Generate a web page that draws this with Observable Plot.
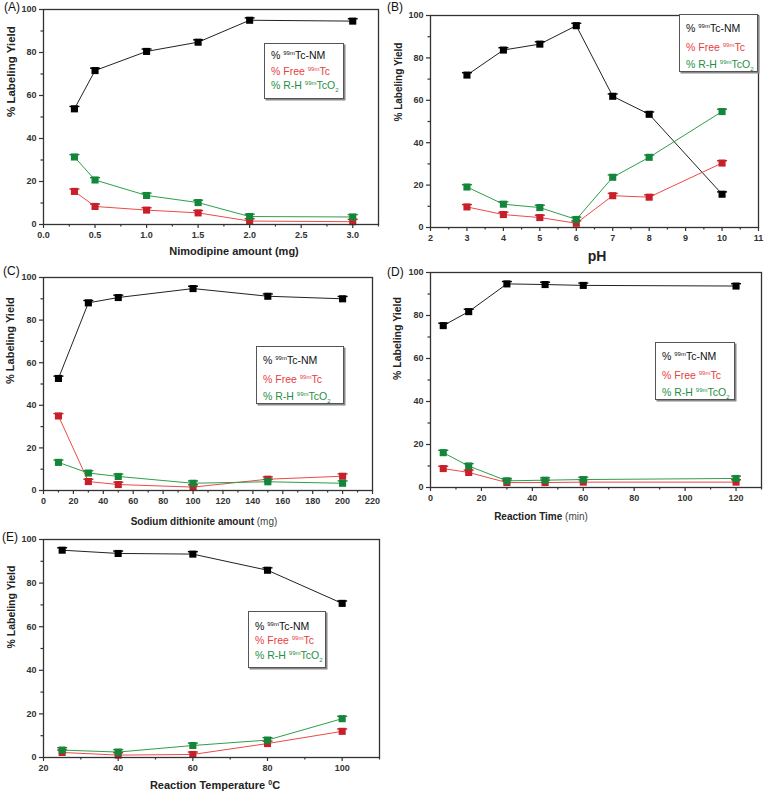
<!DOCTYPE html>
<html>
<head>
<meta charset="utf-8">
<script src="https://cdn.jsdelivr.net/npm/d3@7"></script>
<script src="https://cdn.jsdelivr.net/npm/@observablehq/plot@0.6"></script>
<style>
  body { margin: 0; background: #fff; font-family: "Liberation Sans", Arial, sans-serif; }
  #root { position: relative; width: 765px; height: 792px; overflow: hidden; }
  .panel { position: absolute; }
  .tag { position: absolute; font-size: 12px; color: #111; line-height: 1; }
  .xlab { position: absolute; transform: translate(-50%, -50%); font-weight: bold; color: #222; white-space: nowrap; line-height: 1; }
  .xlab .nb { font-weight: normal; color: #444; }
  .legend { position: absolute; border: 1.3px solid #555; box-shadow: 1.5px 1.5px 0 #888; background: #fff; box-sizing: border-box; }
  .legend div { position: absolute; left: 6px; white-space: nowrap; font-size: 10.5px; line-height: 1; transform: translateY(-50%); }
  .legend sup { font-size: 6px; vertical-align: 4px; }
  .legend sub { font-size: 6px; vertical-align: -3px; }
</style>
</head>
<body>
<div id="root"></div>
<script>
// ---------- DATA ----------
// (A) Nimodipine amount (mg)
const aX    = [0.3, 0.5, 1.0, 1.5, 2.0, 3.0];
const aNM   = [53.8, 71.6, 80.5, 84.8, 95.0, 94.6];
const aFree = [15.4, 8.4, 6.7, 5.4, 1.6, 1.3];
const aRH   = [31.4, 20.7, 13.5, 10.2, 3.7, 3.5];
// (B) pH
const bX    = [3, 4, 5, 6, 7, 8, 10];
const bNM   = [71.9, 83.7, 86.5, 95.2, 61.9, 53.4, 15.7];
const bFree = [9.7, 6.1, 4.7, 2.0, 15.0, 14.3, 30.4];
const bRH   = [19.1, 11.0, 9.4, 3.8, 23.7, 33.1, 54.7];
// (C) Sodium dithionite amount (mg)
const cX    = [10, 30, 50, 100, 150, 200];
const cNM   = [52.6, 88.1, 90.6, 94.8, 91.2, 90.0];
const cFree = [35.0, 4.2, 2.8, 1.6, 5.3, 6.7];
const cRH   = [13.2, 8.2, 6.6, 3.4, 4.1, 3.4];
// (D) Reaction time (min)
const dX    = [5, 15, 30, 45, 60, 120];
const dNM   = [75.3, 81.8, 94.7, 94.4, 94.0, 93.7];
const dFree = [8.8, 7.0, 2.3, 2.3, 2.5, 2.5];
const dRH   = [16.2, 10.0, 3.1, 3.4, 3.7, 4.2];
// (E) Reaction temperature (°C)
const eX    = [25, 40, 60, 80, 100];
const eNM   = [95.1, 93.6, 93.3, 85.9, 70.7];
const eFree = [2.3, 1.1, 1.4, 6.4, 12.0];
const eRH   = [3.4, 2.5, 5.5, 8.0, 17.8];
// error-bar cap (in % units) and tick labels
const capErr = 1.1;
const yTicks = [0, 20, 40, 60, 80, 100];
const yMinor = [10, 30, 50, 70, 90];
const aTicks = [0, 0.5, 1.0, 1.5, 2.0, 2.5, 3.0];
const aMinor = [0.25, 0.75, 1.25, 1.75, 2.25, 2.75, 3.25];
const bTicks = [2, 3, 4, 5, 6, 7, 8, 9, 10, 11];
const bMinor = [2.5, 3.5, 4.5, 5.5, 6.5, 7.5, 8.5, 9.5, 10.5];
const cTicks = [0, 20, 40, 60, 80, 100, 120, 140, 160, 180, 200, 220];
const cMinor = [10, 30, 50, 70, 90, 110, 130, 150, 170, 190, 210];
const dTicks = [0, 20, 40, 60, 80, 100, 120];
const dMinor = [10, 30, 50, 70, 90, 110, 130];
const eTicks = [20, 40, 60, 80, 100];
const eMinor = [30, 50, 70, 90, 110];
const yLabel = "% Labeling Yield";

// ---------- DRAWING ----------
const COLORS = [
  {line: "#222", dot: "#000"},
  {line: "#ec4a4a", dot: "#c8202a"},
  {line: "#2c9f4c", dot: "#14863a"}
];
const capSymbol = {
  draw(ctx, size) {
    const r = Math.sqrt(size / Math.PI);
    ctx.moveTo(-r, 0); ctx.lineTo(r, 0);
  }
};

function panel(p) {
  const marks = [];
  [p.nm, p.free, p.rh].forEach((vals, k) => {
    const d = p.x.map((x, i) => ({x, y: vals[i]}));
    marks.push(Plot.line(d, {x: "x", y: "y", stroke: COLORS[k].line, strokeWidth: 1}));
    marks.push(Plot.dot(d, {x: "x", y: r => r.y + capErr, symbol: capSymbol, r: 5, stroke: COLORS[k].dot, fill: "none", strokeWidth: 1.4}));
    marks.push(Plot.dot(d, {x: "x", y: "y", symbol: "square", r: 4, fill: COLORS[k].dot, stroke: "none"}));
  });
  const svg = Plot.plot({
    width: p.w, height: p.h,
    marginLeft: p.ml, marginRight: p.mr, marginTop: p.mt, marginBottom: p.mb,
    style: {background: "transparent", fontFamily: "'Liberation Sans', Arial, sans-serif", color: "#333"},
    x: {domain: p.xDomain},
    y: {domain: [0, 100]},
    marks: [
      Plot.axisX({ticks: p.xTicks, tickSize: 4, tickPadding: 3, fontSize: 9, fontWeight: "bold", tickFormat: p.fmt, label: null, strokeWidth: 1.2}),
      Plot.axisX({ticks: p.xMinor, tickSize: 2.5, tickFormat: () => "", label: null, strokeWidth: 1.2}),
      Plot.axisY({ticks: yTicks, tickSize: 4, tickPadding: 3, fontSize: 9, fontWeight: "bold", label: null, strokeWidth: 1.2}),
      Plot.axisY({ticks: yMinor, tickSize: 2.5, tickFormat: () => "", label: null, strokeWidth: 1.2}),
      Plot.text([yLabel], {frameAnchor: "left", rotate: -90, dx: -p.yOff, fontSize: p.yFont, fontWeight: "bold", fill: "#222"}),
      ...marks,
      Plot.frame({stroke: "#333", strokeWidth: 1.3})
    ]
  });
  const div = document.createElement("div");
  div.className = "panel";
  div.style.left = p.left + "px";
  div.style.top = p.top + "px";
  div.appendChild(svg);
  root.appendChild(div);

  const tag = document.createElement("div");
  tag.className = "tag";
  tag.textContent = p.tag;
  tag.style.left = p.tagX + "px";
  tag.style.top = p.tagY + "px";
  root.appendChild(tag);

  const xl = document.createElement("div");
  xl.className = "xlab";
  xl.innerHTML = p.xLabel;
  xl.style.left = p.xlX + "px";
  xl.style.top = p.xlY + "px";
  xl.style.fontSize = p.xlFont + "px";
  root.appendChild(xl);

  const lg = document.createElement("div");
  lg.className = "legend";
  const [lx, ly, lw, lh] = p.legend;
  Object.assign(lg.style, {left: lx + "px", top: ly + "px", width: lw + "px", height: lh + "px"});
  const entries = [
    ["% <sup>99m</sup>Tc-NM", "#111"],
    ["% Free <sup>99m</sup>Tc", "#e8403f"],
    ["% R-H <sup>99m</sup>TcO<sub>2</sub>", "#1f8f43"]
  ];
  entries.forEach(([html, c], i) => {
    const e = document.createElement("div");
    e.innerHTML = html;
    e.style.color = c;
    e.style.top = p.legendY[i] + "px";
    lg.appendChild(e);
  });
  root.appendChild(lg);
}

const root = document.getElementById("root");

panel({tag: "(A)", tagX: 4, tagY: 1, left: 0, top: 0, w: 385, h: 245, ml: 43, mr: 7, mt: 9, mb: 21,
  xDomain: [0, 3.25], xTicks: aTicks, xMinor: aMinor, fmt: d3.format(".1f"),
  x: aX, nm: aNM, free: aFree, rh: aRH, yOff: 32, yFont: 11.5,
  xLabel: "Nimodipine amount (mg)", xlX: 234, xlY: 251, xlFont: 11,
  legend: [264, 43, 80, 56], legendY: [11, 27, 42]});

panel({tag: "(B)", tagX: 387, tagY: 1, left: 380, top: 0, w: 385, h: 247, ml: 50, mr: 7, mt: 15, mb: 20,
  xDomain: [2, 11], xTicks: bTicks, xMinor: bMinor, fmt: d3.format("d"),
  x: bX, nm: bNM, free: bFree, rh: bRH, yOff: 32, yFont: 10,
  xLabel: "pH", xlX: 597, xlY: 256, xlFont: 14,
  legend: [679, 14, 79, 58], legendY: [13, 32, 50]});

panel({tag: "(C)", tagX: 3, tagY: 265, left: 0, top: 255, w: 385, h: 255, ml: 43, mr: 13, mt: 22, mb: 20,
  xDomain: [0, 220], xTicks: cTicks, xMinor: cMinor, fmt: d3.format("d"),
  x: cX, nm: cNM, free: cFree, rh: cRH, yOff: 33, yFont: 11,
  xLabel: "Sodium dithionite amount <span class='nb'>(mg)</span>", xlX: 204, xlY: 522, xlFont: 10,
  legend: [256, 346, 88, 58], legendY: [13, 32, 50]});

panel({tag: "(D)", tagX: 387, tagY: 266, left: 380, top: 255, w: 385, h: 250, ml: 50, mr: 4, mt: 17, mb: 18,
  xDomain: [0, 130], xTicks: dTicks, xMinor: dMinor, fmt: d3.format("d"),
  x: dX, nm: dNM, free: dFree, rh: dRH, yOff: 33, yFont: 10.5,
  xLabel: "Reaction Time <span class='nb'>(min)</span>", xlX: 541, xlY: 517, xlFont: 10,
  legend: [655, 342, 80, 58], legendY: [13, 32, 50]});

panel({tag: "(E)", tagX: 2, tagY: 531, left: 0, top: 510, w: 385, h: 270, ml: 43, mr: 6, mt: 29, mb: 23,
  xDomain: [20, 110], xTicks: eTicks, xMinor: eMinor, fmt: d3.format("d"),
  x: eX, nm: eNM, free: eFree, rh: eRH, yOff: 32, yFont: 10.5,
  xLabel: "Reaction Temperature <sup style='font-size:7px'>0</sup>C", xlX: 215, xlY: 785, xlFont: 11,
  legend: [248, 611, 78, 57], legendY: [14, 28, 44]});
</script>
</body>
</html>
